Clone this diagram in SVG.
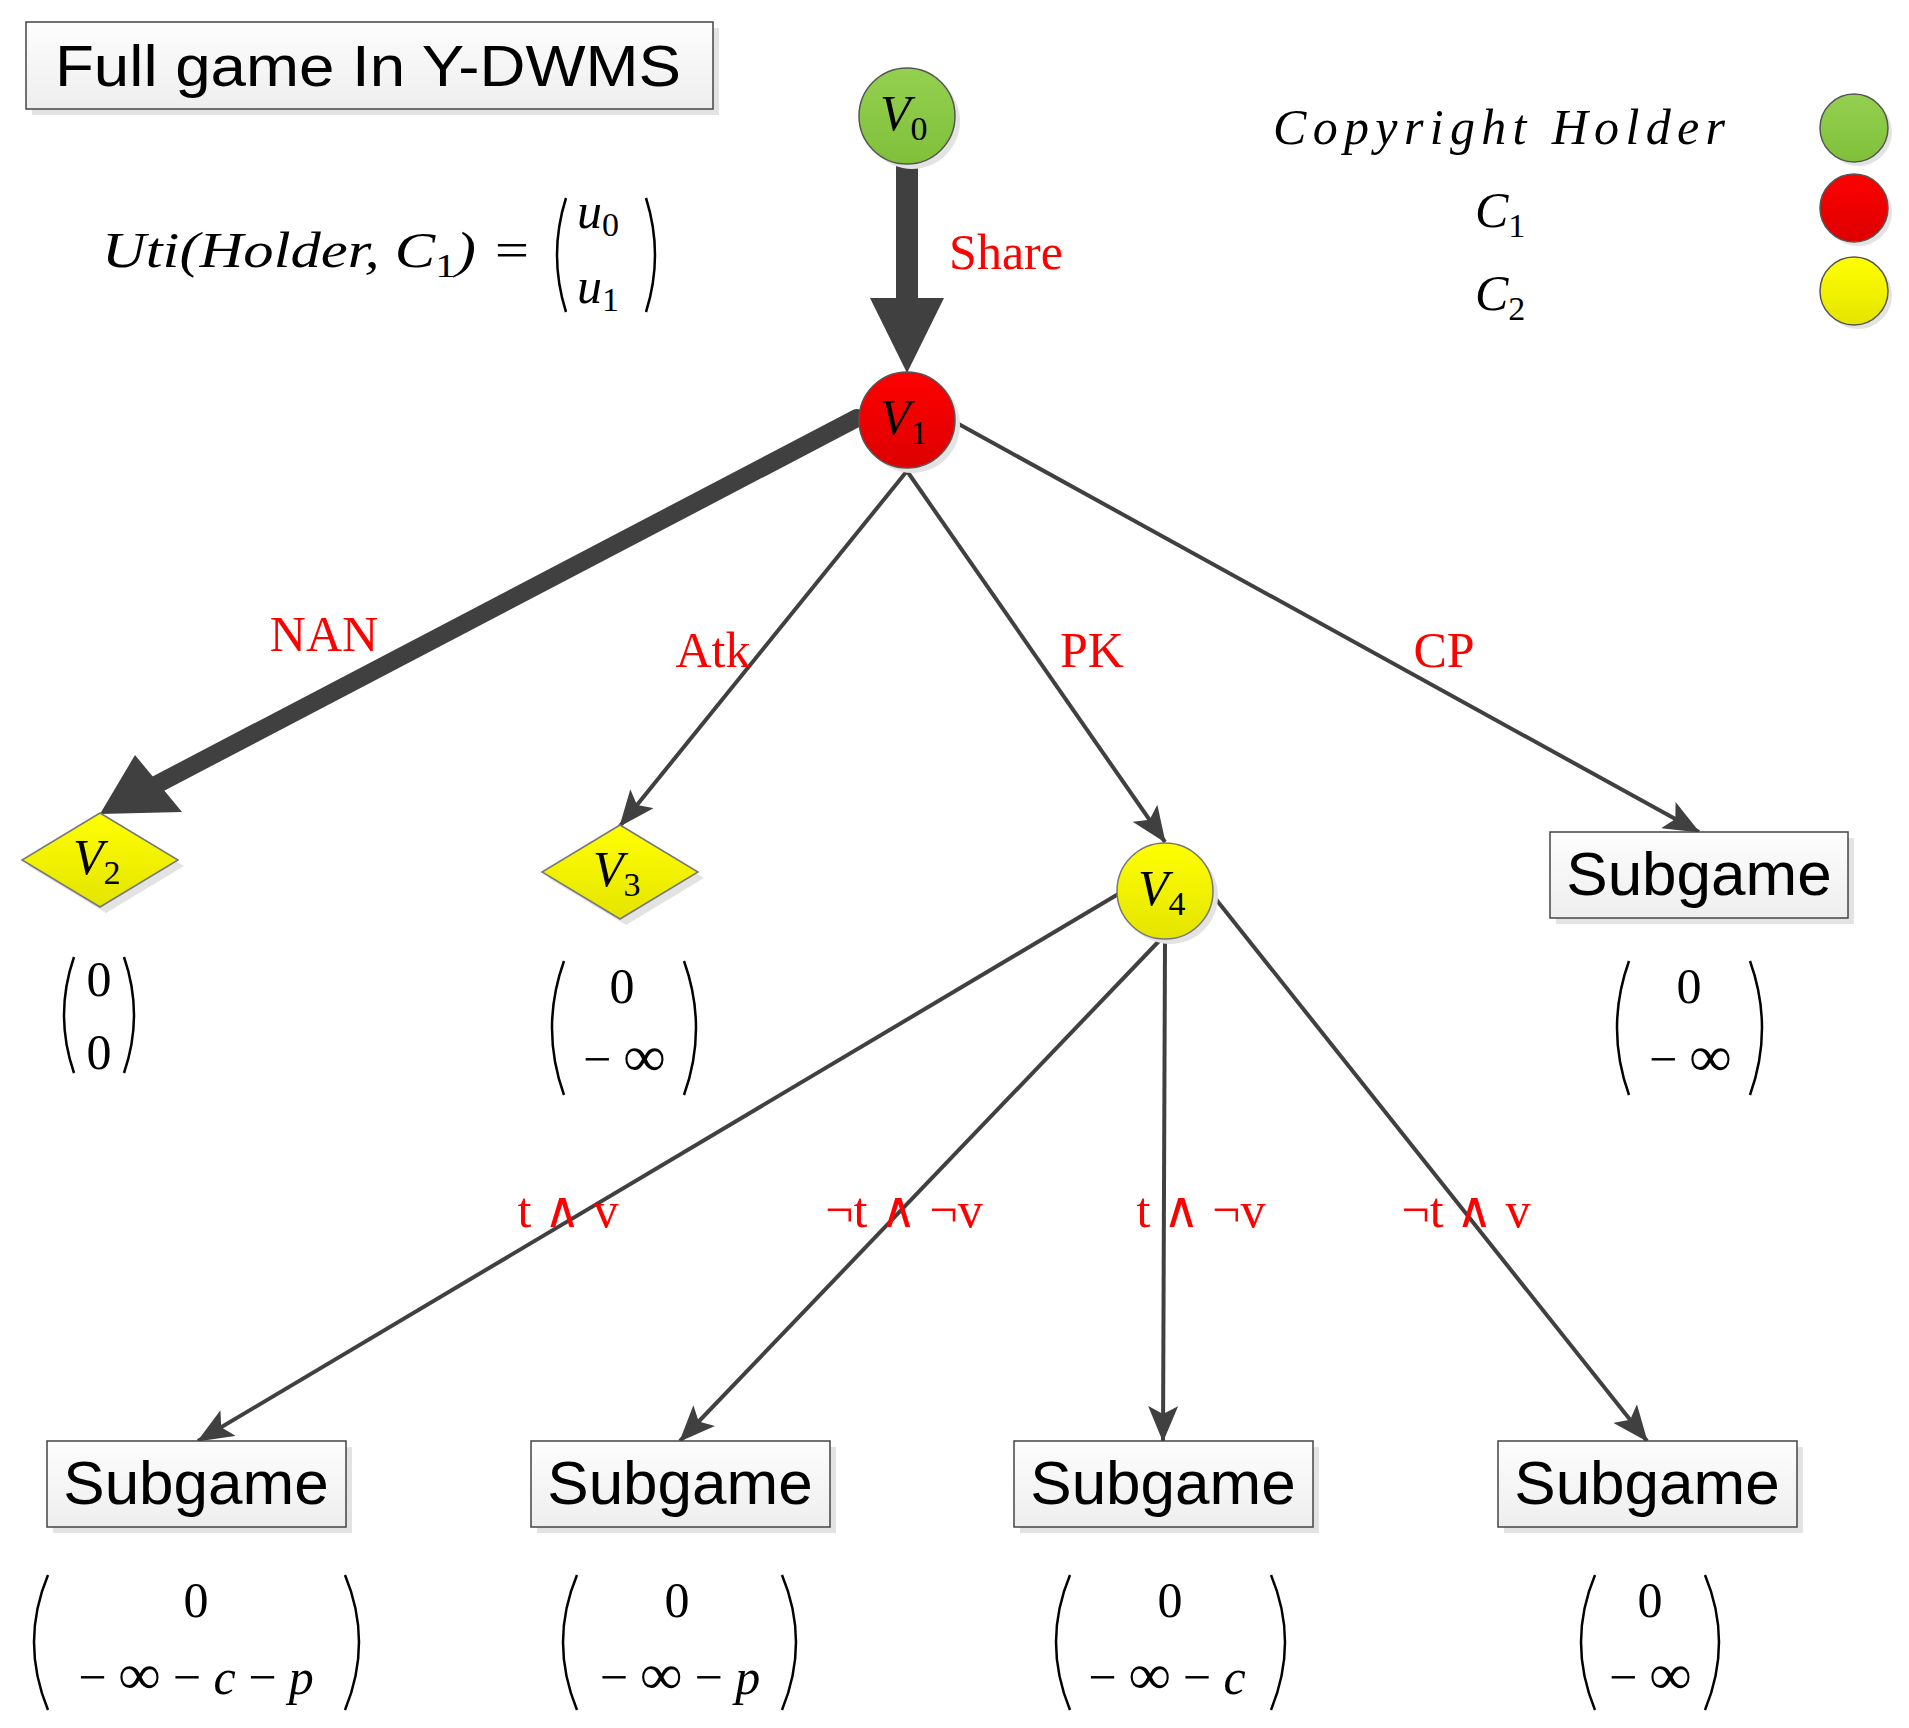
<svg xmlns="http://www.w3.org/2000/svg" width="1909" height="1728" viewBox="0 0 1909 1728">
<style>
.sh{fill:#e3e3e3}
.box{fill:url(#bg);stroke:#444;stroke-width:1.5}
.sg{font-family:"Liberation Sans",Arial,sans-serif;font-size:62px;text-anchor:middle;fill:#000}
.lbl{font-family:"Liberation Serif",serif;font-size:50px;fill:#f00;text-anchor:middle}
.m{font-family:"Liberation Serif",serif;font-size:50px;fill:#000;text-anchor:middle}
.mi{font-family:"Liberation Serif",serif;font-style:italic;font-size:50px;fill:#000}
.sub{font-size:34px;font-style:normal}
.e{stroke:#404040;stroke-width:4;fill:none}
.p{fill:none;stroke:#000;stroke-width:2.5}
</style>
<defs>
<linearGradient id="bg" x1="0" y1="0" x2="0" y2="1"><stop offset="0" stop-color="#fdfdfd"/><stop offset="1" stop-color="#eeeeee"/></linearGradient>
<linearGradient id="gr" x1="0" y1="0" x2="0" y2="1"><stop offset="0" stop-color="#94d050"/><stop offset="1" stop-color="#7fc03a"/></linearGradient>
<linearGradient id="rd" x1="0" y1="0" x2="0" y2="1"><stop offset="0" stop-color="#ff0000"/><stop offset="1" stop-color="#dd0000"/></linearGradient>
<linearGradient id="yl" x1="0" y1="0" x2="0" y2="1"><stop offset="0" stop-color="#ffff00"/><stop offset="1" stop-color="#e4e400"/></linearGradient>
<marker id="a" markerWidth="36" markerHeight="30" refX="35" refY="15" orient="auto" markerUnits="userSpaceOnUse" viewBox="0 0 36 30"><path d="M0,0 L36,15 L0,30 L8,15 Z" fill="#404040"/></marker>
</defs>
<rect width="1909" height="1728" fill="#fff"/>

<g id="title">
<rect class="sh" x="32" y="28" width="687" height="87"/>
<rect class="box" x="26" y="22" width="687" height="87"/>
<text x="55" y="86" font-family="Liberation Sans,Arial,sans-serif" font-size="58" textLength="626" lengthAdjust="spacingAndGlyphs">Full game In Y-DWMS</text>
</g>

<g id="uti">
<text class="mi" x="102" y="267" textLength="430" lengthAdjust="spacingAndGlyphs">Uti(Holder, C<tspan class="sub" dy="10">1</tspan><tspan dy="-10">) =</tspan></text>
<path class="p" d="M566,198 Q548,255 566,312"/>
<path class="p" d="M646,198 Q664,255 646,312"/>
<text class="mi" x="577" y="228">u<tspan class="sub" dy="8">0</tspan></text>
<text class="mi" x="577" y="303">u<tspan class="sub" dy="8">1</tspan></text>
</g>

<g id="legend">
<text class="mi" x="1273" y="144" textLength="452" lengthAdjust="spacing">Copyright  Holder</text>
<text class="mi" x="1475" y="227">C<tspan class="sub" dy="10">1</tspan></text>
<text class="mi" x="1475" y="310">C<tspan class="sub" dy="10">2</tspan></text>
<circle class="sh" cx="1858" cy="132" r="34"/><circle cx="1854" cy="128" r="34" fill="url(#gr)" stroke="#555" stroke-width="1.5"/>
<circle class="sh" cx="1858" cy="212" r="34"/><circle cx="1854" cy="208" r="34" fill="url(#rd)" stroke="#555" stroke-width="1.5"/>
<circle class="sh" cx="1858" cy="295" r="34"/><circle cx="1854" cy="291" r="34" fill="url(#yl)" stroke="#555" stroke-width="1.5"/>
</g>

<g id="connectors">
<line x1="907" y1="159" x2="907" y2="305" stroke="#404040" stroke-width="22" stroke-linecap="round"/>
<path d="M870,298 L944,298 L907,373 Z" fill="#404040"/>
<line x1="857" y1="418" x2="150" y2="788" stroke="#404040" stroke-width="18" stroke-linecap="round"/>
<path d="M135,755 L182,812 L100,814 Z" fill="#404040"/>
<line class="e" x1="907" y1="471" x2="620" y2="826" marker-end="url(#a)"/>
<line class="e" x1="907" y1="471" x2="1165" y2="842" marker-end="url(#a)"/>
<line class="e" x1="955" y1="422" x2="1699" y2="832" marker-end="url(#a)"/>
<line class="e" x1="1120" y1="893" x2="198" y2="1441" marker-end="url(#a)"/>
<line class="e" x1="1160" y1="940" x2="680" y2="1441" marker-end="url(#a)"/>
<line class="e" x1="1165" y1="940" x2="1163" y2="1441" marker-end="url(#a)"/>
<line class="e" x1="1211" y1="893" x2="1647" y2="1441" marker-end="url(#a)"/>
<text class="lbl" x="1006" y="269">Share</text>
<text class="lbl" x="324" y="651">NAN</text>
<text class="lbl" x="713" y="667">Atk</text>
<text class="lbl" x="1092" y="667">PK</text>
<text class="lbl" x="1444" y="667">CP</text>
<text class="lbl" x="568" y="1227">t ∧ v</text>
<text class="lbl" x="904" y="1227">¬t ∧ ¬v</text>
<text class="lbl" x="1201" y="1227">t ∧ ¬v</text>
<text class="lbl" x="1466" y="1227">¬t ∧ v</text>
</g>

<g id="V0">
<circle class="sh" cx="912" cy="121" r="48"/>
<circle cx="907" cy="116" r="48" fill="url(#gr)" stroke="#555" stroke-width="1.5"/>
<text class="mi" x="880" y="130">V<tspan class="sub" dy="10">0</tspan></text>
</g>
<g id="V1">
<circle class="sh" cx="912" cy="425" r="48"/>
<circle cx="907" cy="420" r="48" fill="url(#rd)" stroke="#555" stroke-width="1.5"/>
<text class="mi" x="880" y="434">V<tspan class="sub" dy="10">1</tspan></text>
</g>
<g id="V2">
<path class="sh" d="M106,819 L184,866 L106,913 L28,866 Z"/>
<path d="M100,813 L178,860 L100,907 L22,860 Z" fill="url(#yl)" stroke="#777" stroke-width="1.5"/>
<text class="mi" x="73" y="874">V<tspan class="sub" dy="10">2</tspan></text>
</g>
<g id="V3">
<path class="sh" d="M626,831 L704,878 L626,925 L548,878 Z"/>
<path d="M620,825 L698,872 L620,919 L542,872 Z" fill="url(#yl)" stroke="#777" stroke-width="1.5"/>
<text class="mi" x="593" y="886">V<tspan class="sub" dy="10">3</tspan></text>
</g>
<g id="V4">
<circle class="sh" cx="1170" cy="896" r="48"/>
<circle cx="1165" cy="891" r="48" fill="url(#yl)" stroke="#777" stroke-width="1.5"/>
<text class="mi" x="1138" y="905">V<tspan class="sub" dy="10">4</tspan></text>
</g>

<g id="S0">
<rect class="sh" x="1556" y="838" width="298" height="86"/>
<rect class="box" x="1550" y="832" width="298" height="86"/>
<text class="sg" x="1699" y="895">Subgame</text>
</g>
<g id="S1">
<rect class="sh" x="53" y="1447" width="299" height="86"/>
<rect class="box" x="47" y="1441" width="299" height="86"/>
<text class="sg" x="196" y="1504">Subgame</text>
</g>
<g id="S2">
<rect class="sh" x="537" y="1447" width="299" height="86"/>
<rect class="box" x="531" y="1441" width="299" height="86"/>
<text class="sg" x="680" y="1504">Subgame</text>
</g>
<g id="S3">
<rect class="sh" x="1020" y="1447" width="299" height="86"/>
<rect class="box" x="1014" y="1441" width="299" height="86"/>
<text class="sg" x="1163" y="1504">Subgame</text>
</g>
<g id="S4">
<rect class="sh" x="1504" y="1447" width="299" height="86"/>
<rect class="box" x="1498" y="1441" width="299" height="86"/>
<text class="sg" x="1647" y="1504">Subgame</text>
</g>

<g id="payoffs">
<path class="p" d="M74,957 Q54,1015 74,1073"/><path class="p" d="M124,957 Q144,1015 124,1073"/>
<text class="m" x="99" y="996">0</text><text class="m" x="99" y="1069">0</text>

<path class="p" d="M564,961 Q540,1028 564,1095"/><path class="p" d="M684,961 Q708,1028 684,1095"/>
<text class="m" x="622" y="1003">0</text><text class="m" x="624" y="1076">− <tspan font-style="italic" font-size="58">∞</tspan></text>

<path class="p" d="M1629,961 Q1605,1028 1629,1095"/><path class="p" d="M1750,961 Q1774,1028 1750,1095"/>
<text class="m" x="1689" y="1003">0</text><text class="m" x="1690" y="1076">− <tspan font-style="italic" font-size="58">∞</tspan></text>

<path class="p" d="M48,1575 Q20,1642 48,1710"/><path class="p" d="M345,1575 Q373,1642 345,1710"/>
<text class="m" x="196" y="1617">0</text><text class="m" x="196" y="1694">− <tspan font-style="italic" font-size="58">∞</tspan> − <tspan font-style="italic">c</tspan> − <tspan font-style="italic">p</tspan></text>

<path class="p" d="M577,1575 Q549,1642 577,1710"/><path class="p" d="M782,1575 Q810,1642 782,1710"/>
<text class="m" x="677" y="1617">0</text><text class="m" x="680" y="1694">− <tspan font-style="italic" font-size="58">∞</tspan> − <tspan font-style="italic">p</tspan></text>

<path class="p" d="M1070,1575 Q1042,1642 1070,1710"/><path class="p" d="M1271,1575 Q1299,1642 1271,1710"/>
<text class="m" x="1170" y="1617">0</text><text class="m" x="1167" y="1694">− <tspan font-style="italic" font-size="58">∞</tspan> − <tspan font-style="italic">c</tspan></text>

<path class="p" d="M1595,1575 Q1567,1642 1595,1710"/><path class="p" d="M1705,1575 Q1733,1642 1705,1710"/>
<text class="m" x="1650" y="1617">0</text><text class="m" x="1650" y="1694">− <tspan font-style="italic" font-size="58">∞</tspan></text>
</g>
</svg>
